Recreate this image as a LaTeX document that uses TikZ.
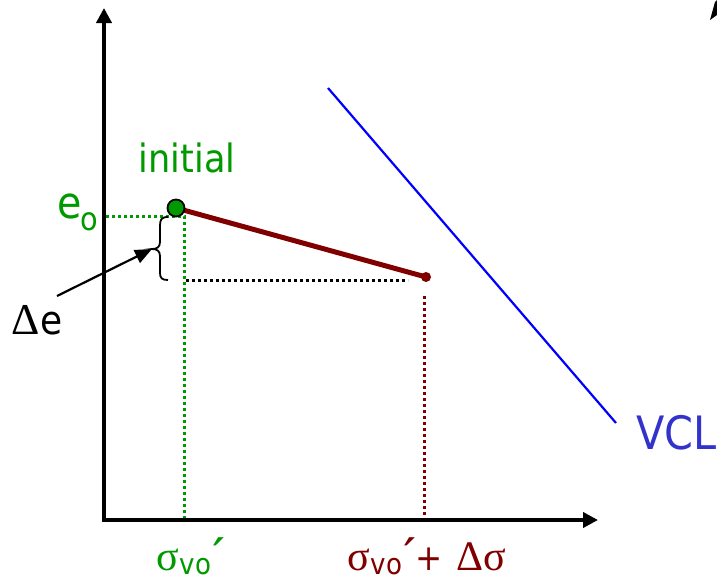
\documentclass[tikz,border=0pt]{standalone}
\usepackage{fontspec}
\setmainfont{DejaVu Sans}
\newfontfamily\tah{DejaVu Sans}[FakeStretch=0.9]
\newfontfamily\prfont{DejaVu Sans}[FakeStretch=1.3]
\newfontfamily\grk{Liberation Serif}
\usetikzlibrary{arrows.meta}
\definecolor{grn}{RGB}{0,153,0}
\definecolor{dred}{RGB}{128,0,0}
\definecolor{vclblue}{RGB}{51,51,204}
\newcommand{\fs}[1]{\fontsize{#1}{#1}\selectfont}
\newcommand{\prm}{{\prfont\fs{45}′}}
\begin{document}
\begin{tikzpicture}[x=1pt,y=-1pt,
  axis/.style={line width=4.5pt,-{Triangle[length=15pt,width=15pt]}},
  gdot/.style={grn,line width=3pt,dash pattern=on 3pt off 3pt},
  kdot/.style={black,line width=3pt,dash pattern=on 3pt off 3pt},
  rdot/.style={dred,line width=3pt,dash pattern=on 3pt off 3pt},
  lbl/.style={anchor=base west,inner sep=0pt,outer sep=0pt},
  initdot/.style={circle,draw=black,line width=1.8pt,fill=grn,minimum size=17pt,inner sep=0pt},
  enddot/.style={circle,fill=dred,minimum size=10pt,inner sep=0pt}]
\useasboundingbox (0,0) rectangle (717,582);
% axes
\coordinate (ybot) at (104,522);
\coordinate (ytip) at (104,8);
\coordinate (xleft) at (102,520);
\coordinate (xtip) at (598,520);
\draw[axis] (ybot) -- (ytip);
\draw[axis] (xleft) -- (xtip);
% dotted guides
\coordinate (eL) at (106,216);
\coordinate (eR) at (184,216);
\coordinate (sB) at (184,518);
\draw[gdot] (eL) -- (eR) -- (sB);
\coordinate (kL) at (186,280);
\coordinate (kR) at (408,280);
\draw[kdot] (kL) -- (kR);
\coordinate (rT) at (424,296);
\coordinate (rB) at (424,518);
\draw[rdot] (rT) -- (rB);
% VCL
\coordinate (vA) at (328,88);
\coordinate (vB) at (616,423);
\draw[blue,line width=2.2pt] (vA) -- (vB);
% recompression line
\coordinate (cA) at (176,208);
\coordinate (cB) at (426,277);
\draw[dred,line width=5pt] (cA) -- (cB);
\node[initdot] (A) at (cA) {};
\node[enddot] (B) at (cB) {};
% brace
\coordinate (brT) at (168,217);
\coordinate (brM) at (152,249);
\coordinate (brB) at (168,280);
\draw[line width=1.8pt] (brT) .. controls (161,217) and (160,220) .. (160,226)
  -- (160,242) .. controls (160,247) and (157,249) .. (brM)
  .. controls (157,249) and (160,251) .. (160,256)
  -- (160,273) .. controls (160,278) and (162,280) .. (brB);
% arrow to brace
\coordinate (arS) at (57,296);
\draw[line width=2.2pt,-{Triangle[length=17pt,width=14pt]}] (arS) -- (brM);
% labels
\node[grn,anchor=base,inner sep=0pt] (init) at (187,172) {\tah\fs{39}initial};
\node[grn,lbl] (e0) at (57,218) {\tah\fs{44}e\kern-1pt\raisebox{-12pt}{\fs{32}o}};
\node[lbl] (de) at (12,334) {{\grk\fs{44}Δ}{\tah\fs{40}e}};
\node[vclblue,lbl] (vcl) at (636,449) {\tah\fs{46}VCL};
\node[grn,lbl] (s0) at (156,570) {{\grk\fs{42}σ}\kern1pt\raisebox{-4pt}{\tah\fs{29}vo}\kern1pt\prm};
\node[dred,lbl] (s1) at (347,570) {{\grk\fs{42}σ}\kern1pt\raisebox{-4pt}{\tah\fs{29}vo}\kern1pt\prm\kern-1pt{\tah\fs{36}+}\kern14pt{\grk\fs{42}Δσ}};
% cropped fragment at top right
\fill (710,20) -- (715,2) -- (717,0) -- (717,15) -- cycle;
\end{tikzpicture}
\end{document}
